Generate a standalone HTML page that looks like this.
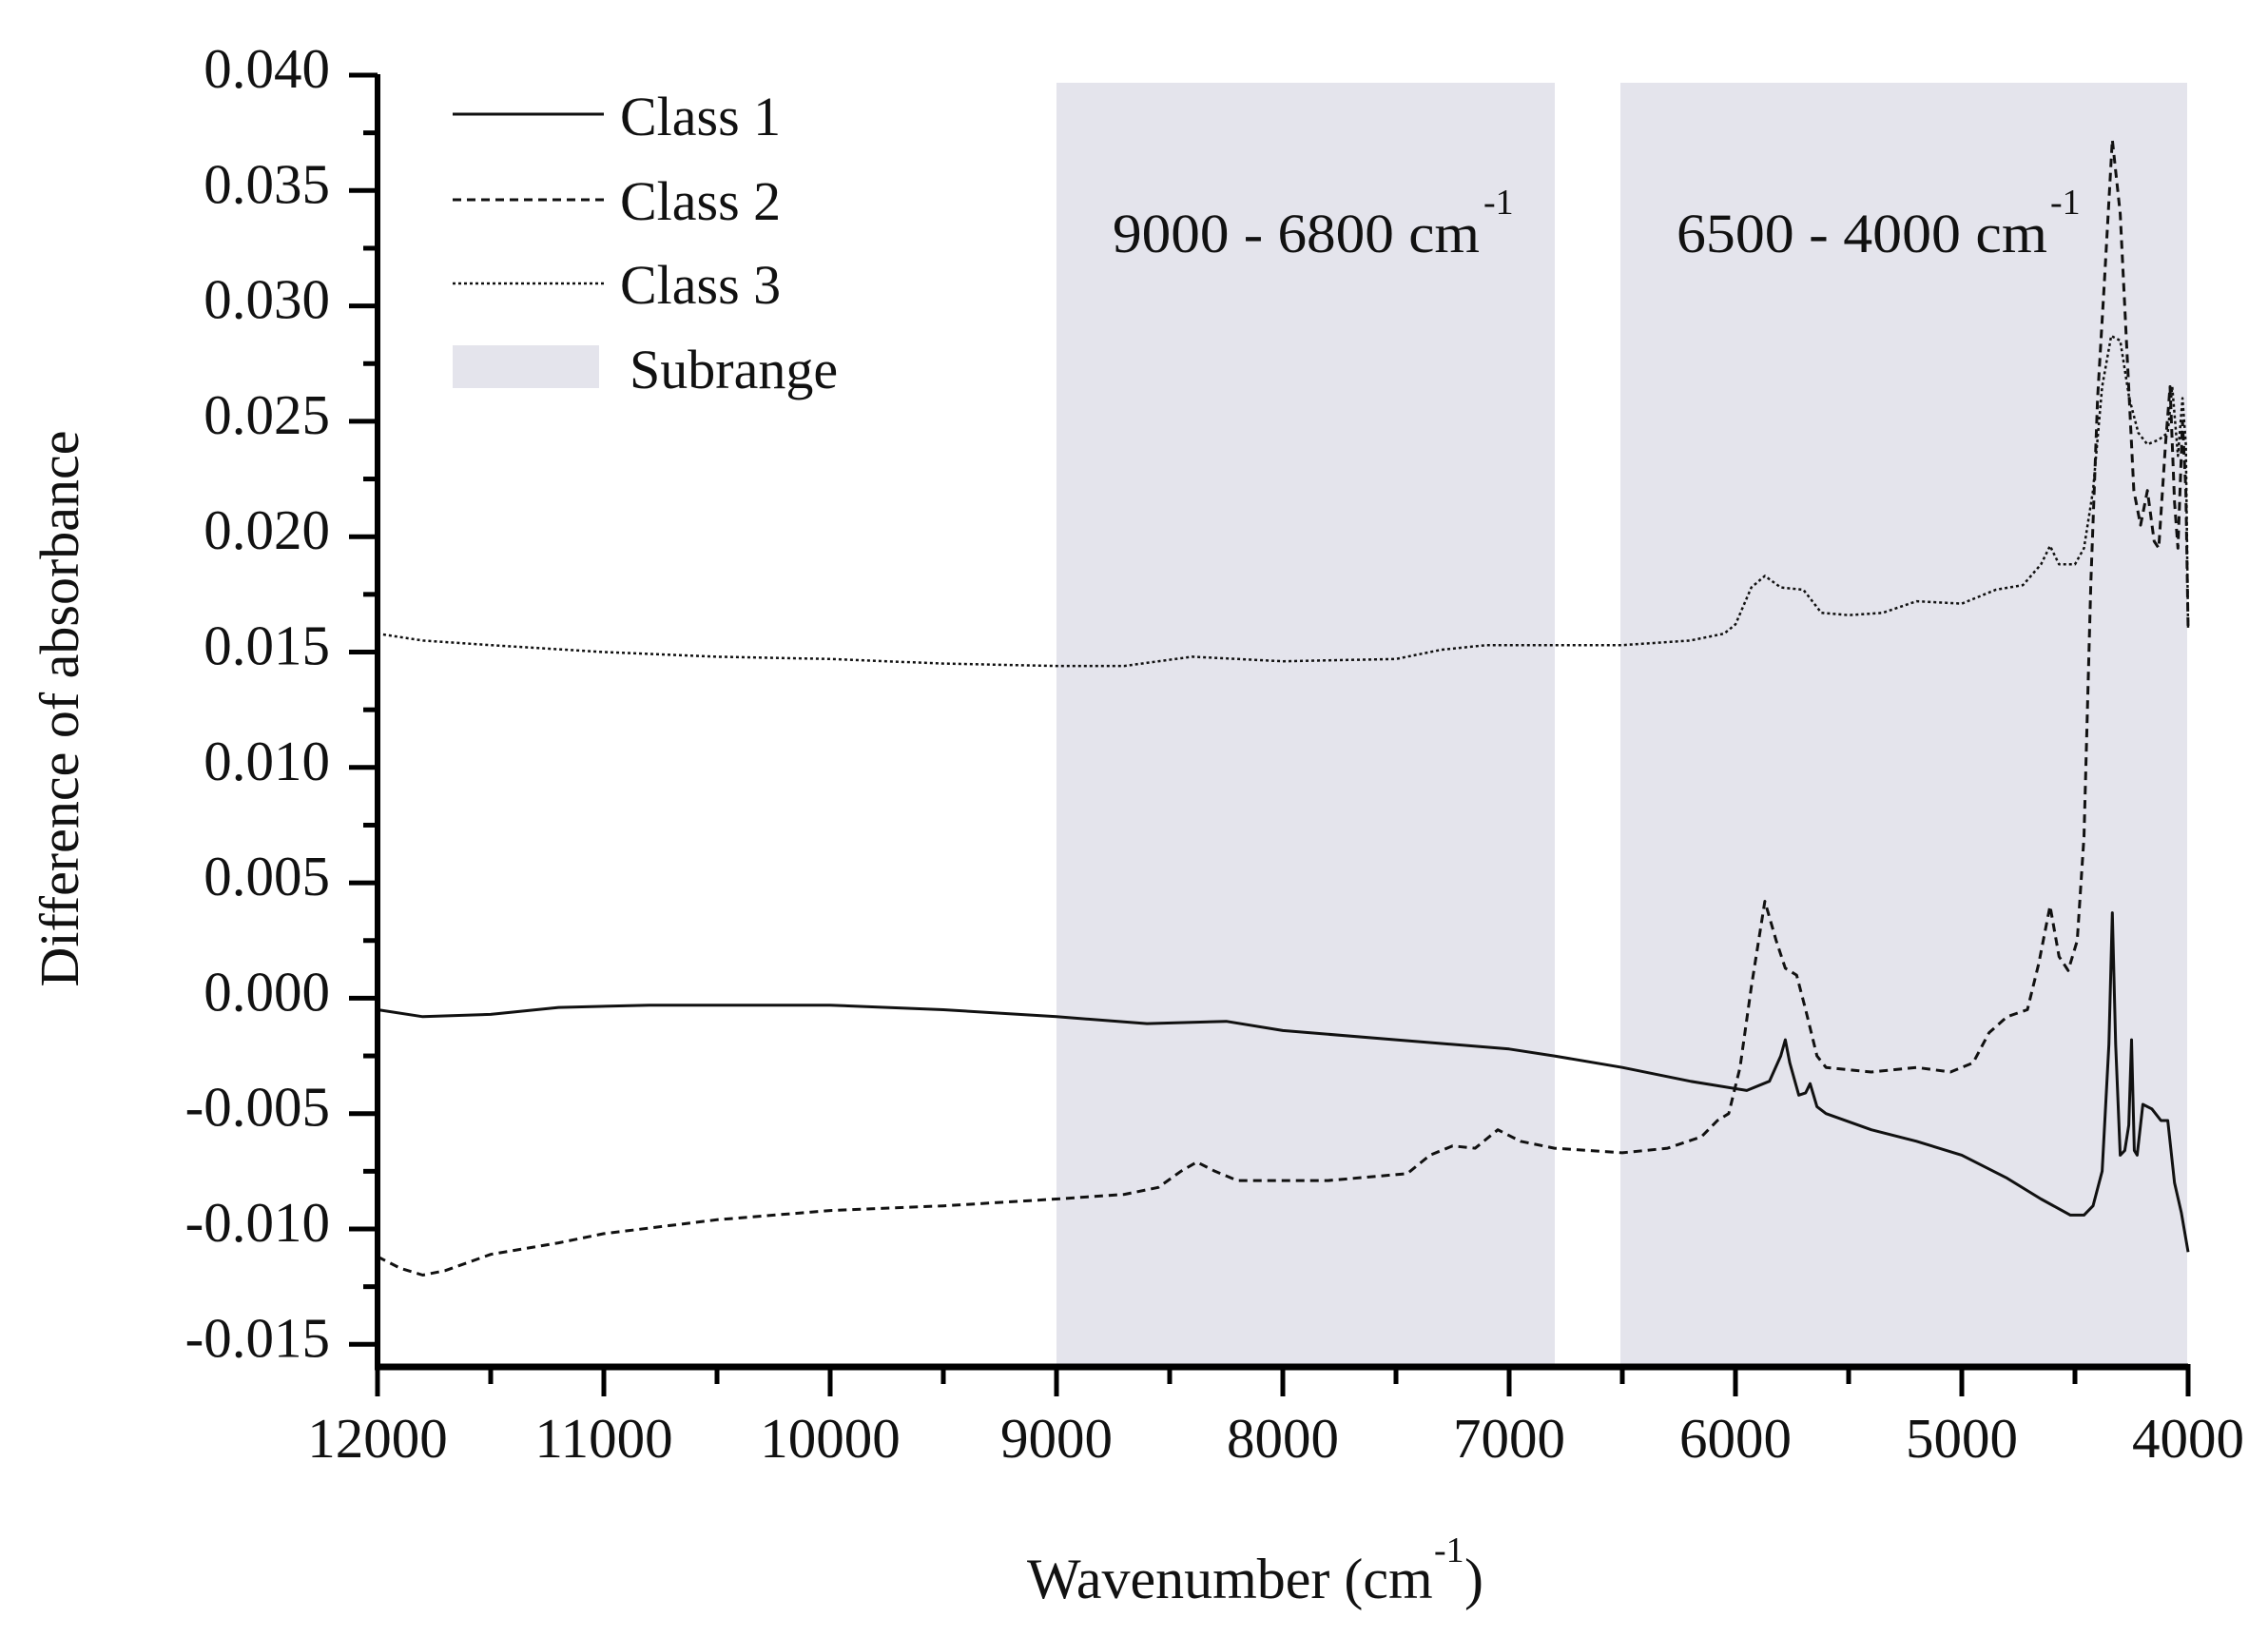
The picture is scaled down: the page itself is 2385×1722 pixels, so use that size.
<!DOCTYPE html>
<html><head><meta charset="utf-8"><style>
html,body{margin:0;padding:0;background:#fff}
svg{display:block}
text{font-family:"Liberation Serif",serif;fill:#111}
</style></head><body>
<svg id="s" width="2385" height="1722" viewBox="0 0 2385 1722" xmlns="http://www.w3.org/2000/svg">
<rect width="2385" height="1722" fill="#fff"/>
<rect x="1111" y="87" width="524" height="1347" fill="#e4e4ec"/>
<rect x="1704" y="87" width="596" height="1347" fill="#e4e4ec"/>
<g id="curves" fill="none" stroke="#111" stroke-width="3" stroke-linejoin="round"></g>
<g id="axes" stroke="#000" fill="none"></g>
<g id="labels" font-size="59"></g>
<line x1="476" y1="120" x2="635" y2="120" stroke="#111" stroke-width="3"/>
<line x1="476" y1="210" x2="635" y2="210" stroke="#111" stroke-width="3" stroke-dasharray="9,6"/>
<line x1="476" y1="298" x2="635" y2="298" stroke="#111" stroke-width="2.5" stroke-dasharray="3,3"/>
<rect x="476" y="363" width="154" height="45" fill="#e4e4ec"/>
<text x="652" y="142" font-size="58">Class 1</text>
<text x="652" y="231" font-size="58">Class 2</text>
<text x="652" y="319" font-size="58">Class 3</text>
<text x="662" y="408" font-size="58">Subrange</text>
<text x="1170" y="265" font-size="58" textLength="386" lengthAdjust="spacingAndGlyphs">9000 - 6800 cm</text>
<text x="1560" y="225" font-size="38">-1</text>
<text x="1763" y="265" font-size="58" textLength="390" lengthAdjust="spacingAndGlyphs">6500 - 4000 cm</text>
<text x="2156" y="225" font-size="38">-1</text>
<text x="1080" y="1680" font-size="60">Wavenumber (cm</text>
<text x="1508" y="1642" font-size="38">-1</text>
<text x="1540" y="1680" font-size="60">)</text>
<text transform="translate(82,745) rotate(-90)" text-anchor="middle" font-size="58">Difference of absorbance</text>
</svg>
<script>
var X=function(w){return 397+(12000-w)*0.238;};
var Y=function(v){return 79+(0.040-v)*24260;};
var NS="http://www.w3.org/2000/svg";
function el(p,t,a){var e=document.createElementNS(NS,t);for(var k in a)e.setAttribute(k,a[k]);p.appendChild(e);return e;}
var ax=document.getElementById("axes"),lb=document.getElementById("labels");
el(ax,"line",{x1:397,y1:78,x2:397,y2:1440,"stroke-width":6});
el(ax,"line",{x1:394,y1:1437,x2:2301,y2:1437,"stroke-width":7});
for(var i=0;i<=22;i++){var v=0.040-i*0.0025,y=Y(v);
 if(y>1432)break;
 var maj=i%2==0;
 el(ax,"line",{x1:maj?367:382,y1:y,x2:397,y2:y,"stroke-width":5});
 if(maj){var t=el(lb,"text",{x:347,y:y+13,"text-anchor":"end"});t.textContent=v.toFixed(3).replace("-0.000","0.000");}
}
for(var i=0;i<=16;i++){var w=12000-i*500,x=X(w),maj=i%2==0;
 el(ax,"line",{x1:x,y1:1434,x2:x,y2:maj?1468:1455,"stroke-width":5});
 if(maj){var t=el(lb,"text",{x:x,y:1532,"text-anchor":"middle"});t.textContent=w;}
}
function path(d,attrs){var s="";for(var i=0;i<d.length;i+=2){s+=(i?"L":"M")+X(d[i]).toFixed(1)+","+Y(d[i+1]).toFixed(1);}
 attrs.d=s;el(document.getElementById("curves"),"path",attrs);}
var c1=[12000,-0.0005,11800,-0.0008,11500,-0.0007,11200,-0.0004,10800,-0.0003,10000,-0.0003,9500,-0.0005,9000,-0.0008,8600,-0.0011,8250,-0.001,8000,-0.0014,7500,-0.0018,7000,-0.0022,6800,-0.0025,6500,-0.003,6200,-0.0036,5950,-0.004,5850,-0.0036,5800,-0.0025,5780,-0.0018,5760,-0.0028,5720,-0.0042,5690,-0.0041,5670,-0.0037,5640,-0.0047,5600,-0.005,5400,-0.0057,5200,-0.0062,5000,-0.0068,4800,-0.0078,4650,-0.0087,4520,-0.0094,4460,-0.0094,4420,-0.009,4380,-0.0075,4350,-0.002,4335,0.0037,4320,-0.002,4300,-0.0068,4280,-0.0066,4262,-0.0055,4250,-0.0018,4238,-0.0066,4225,-0.0068,4200,-0.0046,4160,-0.0048,4120,-0.0053,4090,-0.0053,4060,-0.008,4030,-0.0093,4000,-0.011];
var c2=[12000,-0.0112,11900,-0.0117,11800,-0.012,11700,-0.0118,11500,-0.0111,11200,-0.0106,11000,-0.0102,10500,-0.0096,10000,-0.0092,9500,-0.009,9000,-0.0087,8700,-0.0085,8550,-0.0082,8450,-0.0075,8380,-0.0071,8300,-0.0075,8200,-0.0079,7800,-0.0079,7450,-0.0076,7350,-0.0068,7250,-0.0064,7150,-0.0065,7050,-0.0057,6950,-0.0062,6800,-0.0065,6500,-0.0067,6300,-0.0065,6150,-0.006,6080,-0.0053,6030,-0.005,5980,-0.003,5930,0.0005,5870,0.0042,5820,0.0025,5780,0.0013,5730,0.001,5690,-0.0005,5640,-0.0025,5600,-0.003,5400,-0.0032,5200,-0.003,5050,-0.0032,4950,-0.0028,4880,-0.0015,4800,-0.0008,4710,-0.0005,4660,0.0015,4610,0.004,4570,0.0018,4530,0.0012,4490,0.0025,4460,0.007,4430,0.018,4400,0.026,4370,0.031,4335,0.0372,4300,0.034,4270,0.028,4240,0.022,4210,0.0205,4180,0.022,4150,0.0198,4130,0.0195,4100,0.024,4080,0.0265,4060,0.0215,4045,0.0195,4025,0.025,4010,0.022,4000,0.016];
var c3=[12000,0.0158,11800,0.0155,11500,0.0153,11000,0.015,10500,0.0148,10000,0.0147,9500,0.0145,9000,0.0144,8700,0.0144,8550,0.0146,8400,0.0148,8200,0.0147,8000,0.0146,7500,0.0147,7300,0.0151,7100,0.0153,6800,0.0153,6500,0.0153,6200,0.0155,6050,0.0158,6000,0.0162,5930,0.0178,5870,0.0183,5800,0.0178,5700,0.0177,5620,0.0167,5500,0.0166,5350,0.0167,5200,0.0172,5000,0.0171,4850,0.0177,4730,0.0179,4650,0.0188,4610,0.0196,4570,0.0188,4500,0.0188,4460,0.0195,4420,0.022,4380,0.0265,4340,0.0287,4300,0.0285,4260,0.026,4220,0.0245,4180,0.024,4130,0.0242,4090,0.0245,4070,0.0265,4045,0.0235,4025,0.026,4010,0.024,4000,0.016];
path(c1,{});
path(c2,{"stroke-dasharray":"9,6"});
path(c3,{"stroke-dasharray":"3,3","stroke-width":2.5});
</script>
</body></html>
